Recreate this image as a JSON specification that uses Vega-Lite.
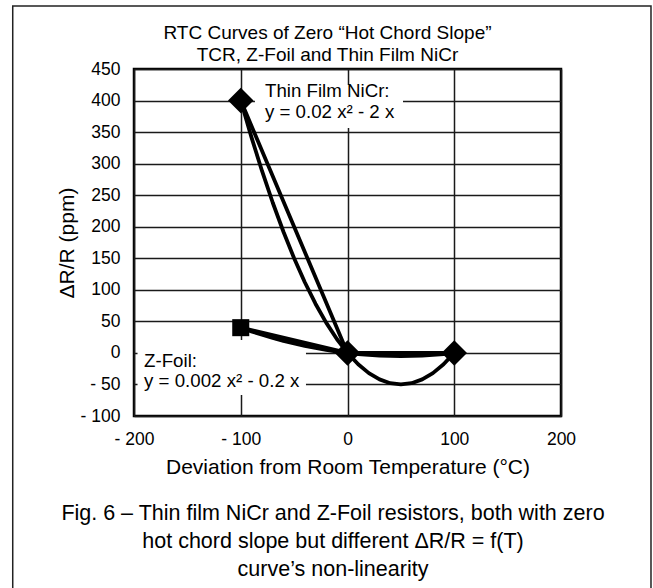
{
  "$schema": "https://vega.github.io/schema/vega-lite/v6.json",
  "autosize": {"type": "none"},
  "width": 427,
  "height": 347,
  "padding": {"left": 134, "top": 69, "right": 92, "bottom": 172},
  "background": "white",
  "datasets": {
    "curves": [
      {"series": "NiCr curve", "t": -100, "dr": 400}, {"series": "NiCr curve", "t": -90, "dr": 342}, {"series": "NiCr curve", "t": -80, "dr": 288},
      {"series": "NiCr curve", "t": -70, "dr": 238}, {"series": "NiCr curve", "t": -60, "dr": 192}, {"series": "NiCr curve", "t": -50, "dr": 150},
      {"series": "NiCr curve", "t": -40, "dr": 112}, {"series": "NiCr curve", "t": -30, "dr": 78}, {"series": "NiCr curve", "t": -20, "dr": 48},
      {"series": "NiCr curve", "t": -10, "dr": 22}, {"series": "NiCr curve", "t": 0, "dr": 0}, {"series": "NiCr curve", "t": 10, "dr": -18},
      {"series": "NiCr curve", "t": 20, "dr": -32}, {"series": "NiCr curve", "t": 30, "dr": -42}, {"series": "NiCr curve", "t": 40, "dr": -48},
      {"series": "NiCr curve", "t": 50, "dr": -50}, {"series": "NiCr curve", "t": 60, "dr": -48}, {"series": "NiCr curve", "t": 70, "dr": -42},
      {"series": "NiCr curve", "t": 80, "dr": -32}, {"series": "NiCr curve", "t": 90, "dr": -18}, {"series": "NiCr curve", "t": 100, "dr": 0},
      {"series": "NiCr chord", "t": -100, "dr": 400}, {"series": "NiCr chord", "t": 0, "dr": 0}, {"series": "NiCr chord", "t": 100, "dr": 0},
      {"series": "Z-Foil curve", "t": -100, "dr": 40}, {"series": "Z-Foil curve", "t": -90, "dr": 34.2}, {"series": "Z-Foil curve", "t": -80, "dr": 28.8},
      {"series": "Z-Foil curve", "t": -70, "dr": 23.8}, {"series": "Z-Foil curve", "t": -60, "dr": 19.2}, {"series": "Z-Foil curve", "t": -50, "dr": 15},
      {"series": "Z-Foil curve", "t": -40, "dr": 11.2}, {"series": "Z-Foil curve", "t": -30, "dr": 7.8}, {"series": "Z-Foil curve", "t": -20, "dr": 4.8},
      {"series": "Z-Foil curve", "t": -10, "dr": 2.2}, {"series": "Z-Foil curve", "t": 0, "dr": 0}, {"series": "Z-Foil curve", "t": 10, "dr": -1.8},
      {"series": "Z-Foil curve", "t": 20, "dr": -3.2}, {"series": "Z-Foil curve", "t": 30, "dr": -4.2}, {"series": "Z-Foil curve", "t": 40, "dr": -4.8},
      {"series": "Z-Foil curve", "t": 50, "dr": -5}, {"series": "Z-Foil curve", "t": 60, "dr": -4.8}, {"series": "Z-Foil curve", "t": 70, "dr": -4.2},
      {"series": "Z-Foil curve", "t": 80, "dr": -3.2}, {"series": "Z-Foil curve", "t": 90, "dr": -1.8}, {"series": "Z-Foil curve", "t": 100, "dr": 0},
      {"series": "Z-Foil chord", "t": -100, "dr": 40}, {"series": "Z-Foil chord", "t": 0, "dr": 0}, {"series": "Z-Foil chord", "t": 100, "dr": 0}
    ],
    "markers": [
      {"series": "Thin Film NiCr", "t": -100, "dr": 400},
      {"series": "Thin Film NiCr", "t": 0, "dr": 0},
      {"series": "Thin Film NiCr", "t": 100, "dr": 0},
      {"series": "Z-Foil", "t": -100, "dr": 40}
    ],
    "labels": [
      {"label": "Thin Film NiCr:", "t": -77.3, "dr": 405},
      {"label": "y = 0.02 x² - 2 x", "t": -77.3, "dr": 372},
      {"label": "Z-Foil:", "t": -190.6, "dr": -22},
      {"label": "y = 0.002 x² - 0.2 x", "t": -190.6, "dr": -53.6}
    ]
  },
  "resolve": {"axis": {"x": "independent", "y": "independent"}},
  "layer": [
    {
      "data": {"values": [{"frame": "outer"}]},
      "mark": {"type": "rect", "fill": "white", "fillOpacity": 0, "stroke": "#222222", "strokeWidth": 1.5},
      "encoding": {
        "x": {"datum": -313.6, "type": "quantitative", "scale": {"domain": [-200, 200], "nice": false, "zero": false}, "axis": null},
        "x2": {"datum": 284.3},
        "y": {"datum": 549.9, "type": "quantitative", "scale": {"domain": [-100, 450], "nice": false, "zero": false}, "axis": null},
        "y2": {"datum": -391.7}
      }
    },
    {
      "data": {"values": [{"box": "NiCr label"}]},
      "mark": {"type": "rect", "fill": "white", "strokeWidth": 0},
      "encoding": {
        "x": {"datum": -86.7, "type": "quantitative", "axis": null},
        "x2": {"datum": 52},
        "y": {"datum": 424.6, "type": "quantitative", "axis": null},
        "y2": {"datum": 356.5}
      }
    },
    {
      "data": {"values": [{"box": "Z-Foil label"}]},
      "mark": {"type": "rect", "fill": "white", "strokeWidth": 0},
      "encoding": {
        "x": {"datum": -196.7, "type": "quantitative", "axis": null},
        "x2": {"datum": -38.9},
        "y": {"datum": 20.5, "type": "quantitative", "axis": null},
        "y2": {"datum": -66.7}
      }
    },
    {
      "data": {"name": "curves"},
      "mark": {"type": "line", "color": "black", "strokeWidth": 3.8, "strokeJoin": "round", "strokeCap": "round"},
      "encoding": {
        "x": {
          "field": "t", "type": "quantitative",
          "axis": {
            "orient": "bottom", "values": [-200, -100, 0, 100, 200],
            "title": "Deviation from Room Temperature (°C)",
            "grid": true, "ticks": false, "domain": false,
            "labelPadding": 14, "labelFlush": false, "labelOverlap": false,
            "labelExpr": "datum.value < 0 ? '- ' + abs(datum.value) : datum.label",
            "titlePadding": 9
          }
        },
        "y": {
          "field": "dr", "type": "quantitative",
          "axis": {
            "orient": "left",
            "values": [-100, -50, 0, 50, 100, 150, 200, 250, 300, 350, 400, 450],
            "title": "ΔR/R (ppm)",
            "grid": true, "ticks": false, "domain": false,
            "labelPadding": 14, "labelFlush": false, "labelOverlap": false,
            "labelExpr": "datum.value < 0 ? '- ' + abs(datum.value) : datum.label",
            "titlePadding": 3
          }
        },
        "detail": {"field": "series"}
      }
    },
    {
      "data": {"name": "markers"},
      "mark": {"type": "point", "filled": true, "color": "black", "opacity": 1},
      "encoding": {
        "x": {
          "field": "t", "type": "quantitative",
          "axis": {
            "orient": "top", "labels": false, "ticks": false, "domain": false, "grid": false,
            "title": ["RTC Curves of Zero “Hot Chord Slope”", "TCR, Z-Foil and Thin Film NiCr"],
            "titleFontSize": 19, "titleLineHeight": 22, "titlePadding": 5, "titleX": 193
          }
        },
        "y": {"field": "dr", "type": "quantitative", "axis": null},
        "shape": {"field": "series", "type": "nominal", "scale": {"domain": ["Thin Film NiCr", "Z-Foil"], "range": ["diamond", "square"]}, "legend": null},
        "size": {"field": "series", "type": "ordinal", "scale": {"domain": ["Thin Film NiCr", "Z-Foil"], "range": [650, 290]}, "legend": null}
      }
    },
    {
      "data": {"name": "labels"},
      "mark": {"type": "text", "align": "left", "baseline": "alphabetic", "fontSize": 18.7, "color": "black", "font": "Liberation Sans"},
      "encoding": {
        "x": {
          "field": "t", "type": "quantitative",
          "axis": {
            "orient": "bottom", "labels": false, "ticks": false, "domain": false, "grid": false,
            "title": ["Fig. 6 – Thin film NiCr and Z-Foil resistors, both with zero", "hot chord slope but different ΔR/R = f(T)", "curve’s non-linearity"],
            "titleFontSize": 21.5, "titleLineHeight": 28, "titlePadding": 86, "titleX": 198.5
          }
        },
        "y": {"field": "dr", "type": "quantitative", "axis": null},
        "text": {"field": "label"}
      }
    }
  ],
  "config": {
    "view": {"stroke": "black", "strokeWidth": 2.5},
    "axis": {
      "labelFont": "Liberation Sans", "titleFont": "Liberation Sans",
      "labelFontSize": 17.5, "titleFontSize": 21,
      "labelColor": "black", "titleColor": "black", "titleFontWeight": "normal",
      "gridColor": "#1a1a1a", "gridWidth": 1.5, "gridOpacity": 1
    },
    "text": {"font": "Liberation Sans"}
  }
}
